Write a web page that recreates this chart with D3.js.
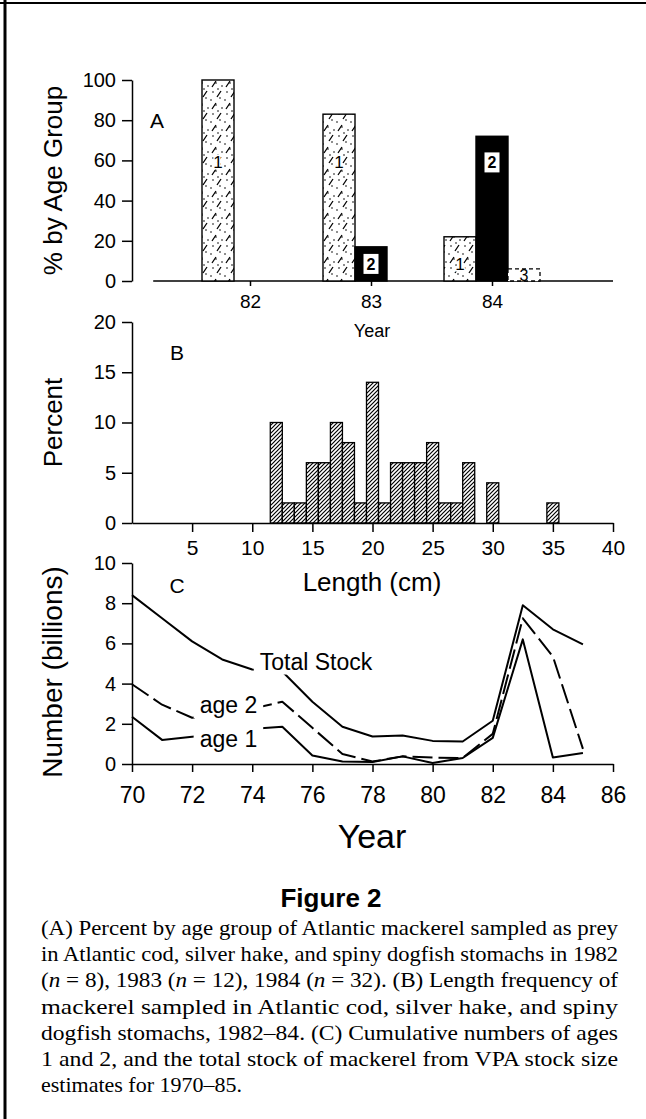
<!DOCTYPE html>
<html>
<head>
<meta charset="utf-8">
<script src="https://cdn.jsdelivr.net/npm/d3@7"></script>
<style>
  body { margin: 0; background: #fff; }
  svg { display: block; }
</style>
</head>
<body>
<svg id="fig" width="646" height="1119"></svg>
<script>
// ---------- Panel A: percent by age group of mackerel prey ----------
const sampleYears = [82, 83, 84];
const ageGroups = [1, 2, 3];
const pctAge1 = [100, 83, 22];
const pctAge2 = [0, 17, 72];
const pctAge3 = [0, 0, 6];
const pctTicks = [0, 20, 40, 60, 80, 100];

// ---------- Panel B: length frequency ----------
const lengthCm  = [12, 13, 14, 15, 16, 17, 18, 19, 20, 21, 22, 23, 24, 25, 26, 27, 28, 30, 35];
const lengthPct = [10,  2,  2,  6,  6, 10,  8,  2, 14,  2,  6,  6,  6,  8,  2,  2,  6,  4,  2];
const lengthTicks = [5, 10, 15, 20, 25, 30, 35, 40];
const percentTicks = [0, 5, 10, 15, 20];

// ---------- Panel C: VPA stock estimates (billions) ----------
const stockYears = [70, 71, 72, 73, 74, 75, 76, 77, 78, 79, 80, 81, 82, 83, 84, 85];
const totalStock = [8.4, 7.25, 6.1, 5.2, 4.7, 4.6, 3.1, 1.85, 1.37, 1.42, 1.15, 1.12, 2.15, 7.9, 6.7, 5.95];
const ages1and2  = [3.97, 2.95, 2.3, 2.5, 2.75, 3.1, 1.8, 0.5, 0.12, 0.38, 0.32, 0.3, 1.5, 7.25, 5.35, 0.75];
const age1Only   = [2.35, 1.2, 1.35, 1.5, 1.75, 1.85, 0.42, 0.12, 0.1, 0.38, 0.05, 0.3, 1.3, 6.2, 0.32, 0.55];
const yearTicks = [70, 72, 74, 76, 78, 80, 82, 84, 86];
const numberTicks = [0, 2, 4, 6, 8, 10];

const captionLines = [
  "(A) Percent by age group of Atlantic mackerel sampled as prey",
  "in Atlantic cod, silver hake, and spiny dogfish stomachs in 1982",
  null,
  "mackerel sampled in Atlantic cod, silver hake, and spiny",
  "dogfish stomachs, 1982–84.  (C) Cumulative numbers of ages",
  "1 and 2, and the total stock of mackerel from VPA stock size",
  "estimates for 1970–85."
];

const sans = "'Liberation Sans', Arial, Helvetica, sans-serif";
const serif = "'Liberation Serif', 'Times New Roman', serif";

const svg = d3.select("#fig");
svg.append("rect").attr("width", 646).attr("height", 1119).attr("fill", "#fff");

// fill patterns
const defs = svg.append("defs");
const stipple = defs.append("pattern").attr("id", "stipple")
  .attr("patternUnits", "userSpaceOnUse").attr("width", 14).attr("height", 22);
stipple.append("rect").attr("width", 14).attr("height", 22).attr("fill", "#fff");
[[3, 4], [10, 10], [6, 17], [12, 20], [1, 12], [8, 1]].forEach(([cx, cy]) =>
  stipple.append("circle").attr("cx", cx).attr("cy", cy).attr("r", 0.8).attr("fill", "#000"));
stipple.append("path").attr("d", "M7,9 L11,3 M2,21 L6,15")
  .attr("stroke", "#000").attr("stroke-width", 1.3).attr("fill", "none");

const hatch = defs.append("pattern").attr("id", "hatch")
  .attr("patternUnits", "userSpaceOnUse").attr("width", 4).attr("height", 4);
hatch.append("rect").attr("width", 4).attr("height", 4).attr("fill", "#fff");
hatch.append("path").attr("d", "M-1,1 L1,-1 M0,4 L4,0 M3,5 L5,3")
  .attr("stroke", "#000").attr("stroke-width", 1.2);

function styleAxis(g, size) {
  g.attr("font-size", size).attr("font-family", sans);
  g.selectAll("line, path").attr("stroke", "#000").attr("stroke-width", 1.5);
  g.selectAll("text").attr("fill", "#000");
  return g;
}

// ================= Panel A =================
const xA = d3.scaleLinear().domain([81, 85]).range([129, 613]);
const subA = d3.scaleBand().domain(ageGroups).range([-48, 48]);
const yA = d3.scaleLinear().domain([0, 100]).range([281, 80]);
const seriesA = [pctAge1, pctAge2, pctAge3];

const barsA = [];
sampleYears.forEach((yr, i) => ageGroups.forEach((g, j) => barsA.push({ yr, g, v: seriesA[j][i] })));

const gA = svg.append("g");
gA.append("line")
  .attr("x1", xA(81.2)).attr("x2", xA(85)).attr("y1", yA(0)).attr("y2", yA(0))
  .attr("stroke", "#000").attr("stroke-width", 1.6);

const shownA = barsA.filter(d => d.v > 0);
gA.selectAll("rect.bar").data(shownA).join("rect")
  .attr("class", "bar")
  .attr("x", d => xA(d.yr) + subA(d.g))
  .attr("width", subA.bandwidth())
  .attr("y", d => yA(d.v))
  .attr("height", d => yA(0) - yA(d.v))
  .attr("fill", d => d.g === 1 ? "url(#stipple)" : d.g === 2 ? "#000" : "#fff")
  .attr("stroke", "#000")
  .attr("stroke-width", d => d.g === 3 ? 1.3 : 1.4)
  .attr("stroke-dasharray", d => d.g === 3 ? "4,3" : null);

const labelY = d => d.v >= 50 ? yA(59) : (yA(d.v) + yA(0)) / 2 + (d.g === 1 ? 5 : 0);
shownA.forEach(d => {
  const cx = xA(d.yr) + subA(d.g) + subA.bandwidth() / 2;
  const cy = labelY(d);
  if (d.g === 2) {
    gA.append("rect").attr("x", cx - 7.5).attr("y", cy - 10).attr("width", 15).attr("height", 20)
      .attr("fill", "#fff");
  }
  gA.append("text")
    .attr("x", cx).attr("y", cy + 6)
    .attr("text-anchor", "middle")
    .attr("font-family", sans).attr("font-size", d.g === 1 ? 17 : 16)
    .attr("font-weight", d.g === 2 ? "bold" : "normal")
    .attr("fill", "#000")
    .attr("stroke", d.g === 1 ? "#fff" : "none").attr("stroke-width", 3)
    .attr("paint-order", "stroke")
    .text(d.g);
});

styleAxis(svg.append("g").attr("transform", "translate(132,0)")
  .call(d3.axisLeft(yA).tickValues(pctTicks).tickSize(10).tickSizeOuter(0).tickPadding(6)), 20);

const axAx = svg.append("g").attr("transform", `translate(0,${yA(0)})`)
  .call(d3.axisBottom(xA).tickValues(sampleYears).tickSize(5).tickPadding(9).tickFormat(d3.format("d")));
axAx.select(".domain").remove();
styleAxis(axAx, 19);

svg.append("text").attr("x", 372).attr("y", 337).attr("text-anchor", "middle")
  .attr("font-family", sans).attr("font-size", 18).text("Year");
svg.append("text").attr("x", 157).attr("y", 128).attr("text-anchor", "middle")
  .attr("font-family", sans).attr("font-size", 21).text("A");
svg.append("text").attr("transform", `translate(62,${(yA(0) + yA(100)) / 2}) rotate(-90)`)
  .attr("text-anchor", "middle").attr("font-family", sans).attr("font-size", 26)
  .text("% by Age Group");

// ================= Panel B =================
const xB = d3.scaleLinear().domain([0, 40]).range([132, 613]);
const yB = d3.scaleLinear().domain([0, 20]).range([523, 322]);
const binsB = lengthCm.map((c, i) => ({ c, v: lengthPct[i] }));

svg.append("g").selectAll("rect").data(binsB).join("rect")
  .attr("x", d => xB(d.c - 0.5))
  .attr("width", d => xB(d.c + 0.5) - xB(d.c - 0.5))
  .attr("y", d => yB(d.v))
  .attr("height", d => yB(0) - yB(d.v))
  .attr("fill", "url(#hatch)")
  .attr("stroke", "#000").attr("stroke-width", 1.3);

styleAxis(svg.append("g").attr("transform", "translate(132,0)")
  .call(d3.axisLeft(yB).tickValues(percentTicks).tickSize(10).tickSizeOuter(0).tickPadding(6)), 20);
styleAxis(svg.append("g").attr("transform", `translate(0,${yB(0)})`)
  .call(d3.axisBottom(xB).tickValues(lengthTicks).tickSize(9).tickSizeOuter(0).tickPadding(8)), 21);

svg.append("text").attr("x", 177).attr("y", 360).attr("text-anchor", "middle")
  .attr("font-family", sans).attr("font-size", 21).text("B");
svg.append("text").attr("x", 372).attr("y", 591).attr("text-anchor", "middle")
  .attr("font-family", sans).attr("font-size", 26).text("Length (cm)");
svg.append("text").attr("transform", `translate(62,${(yB(0) + yB(20)) / 2}) rotate(-90)`)
  .attr("text-anchor", "middle").attr("font-family", sans).attr("font-size", 26)
  .text("Percent");

// ================= Panel C =================
const xC = d3.scaleLinear().domain([70, 86]).range([132, 613]);
const yC = d3.scaleLinear().domain([0, 10]).range([764, 563]);
const lineC = d3.line().x((d, i) => xC(stockYears[i])).y(d => yC(d));

const gC = svg.append("g").attr("fill", "none").attr("stroke", "#000").attr("stroke-linejoin", "round");
gC.append("path").attr("d", lineC(totalStock)).attr("stroke-width", 2);
gC.append("path").attr("d", lineC(ages1and2)).attr("stroke-width", 2).attr("stroke-dasharray", "20,6");
gC.append("path").attr("d", lineC(age1Only)).attr("stroke-width", 2);

function boxedLabel(x, y, txt) {
  const g = svg.append("g");
  const t = g.append("text").attr("x", x).attr("y", y)
    .attr("font-family", sans).attr("font-size", 23).attr("fill", "#000").text(txt);
  const b = t.node().getBBox();
  g.insert("rect", "text")
    .attr("x", b.x - 6).attr("y", b.y - 2).attr("width", b.width + 12).attr("height", b.height + 2)
    .attr("fill", "#fff");
}
boxedLabel(xC(74.25), yC(4.7), "Total Stock");
boxedLabel(xC(72.25), yC(2.52), "age 2");
boxedLabel(xC(72.25), yC(0.85), "age 1");

styleAxis(svg.append("g").attr("transform", "translate(132,0)")
  .call(d3.axisLeft(yC).tickValues(numberTicks).tickSize(10).tickSizeOuter(0).tickPadding(6)), 20);
styleAxis(svg.append("g").attr("transform", `translate(0,${yC(0)})`)
  .call(d3.axisBottom(xC).tickValues(yearTicks).tickSize(8).tickSizeOuter(0).tickPadding(15)), 23);

svg.append("text").attr("x", 177).attr("y", 593).attr("text-anchor", "middle")
  .attr("font-family", sans).attr("font-size", 21).text("C");
svg.append("text").attr("x", 372).attr("y", 848).attr("text-anchor", "middle")
  .attr("font-family", sans).attr("font-size", 34).text("Year");
svg.append("text").attr("transform", `translate(62,672) rotate(-90)`)
  .attr("text-anchor", "middle").attr("font-family", sans).attr("font-size", 28)
  .text("Number (billions)");

// ================= Caption =================
svg.append("text").attr("x", 331).attr("y", 907).attr("text-anchor", "middle")
  .attr("font-family", sans).attr("font-size", 26).attr("font-weight", "bold").text("Figure 2");

const capLeft = 41, capWidth = 577;
captionLines.forEach((line, i) => {
  const t = svg.append("text").attr("x", capLeft).attr("y", 935 + i * 26.2)
    .attr("font-family", serif).attr("font-size", 22).attr("fill", "#000");
  if (i < captionLines.length - 1) {
    t.attr("textLength", capWidth).attr("lengthAdjust", "spacingAndGlyphs");
  }
  if (line === null) {
    const parts = [["(", 0], ["n", 1], [" = 8), 1983 (", 0], ["n", 1], [" = 12), 1984 (", 0], ["n", 1],
                   [" = 32).  (B) Length frequency of", 0]];
    parts.forEach(([s, it]) => t.append("tspan").attr("font-style", it ? "italic" : "normal").text(s));
  } else {
    t.text(line);
  }
});

// frame
svg.append("line").attr("x1", 5).attr("x2", 5).attr("y1", 0).attr("y2", 1119)
  .attr("stroke", "#000").attr("stroke-width", 3);
svg.append("line").attr("x1", 0).attr("x2", 646).attr("y1", 3).attr("y2", 3)
  .attr("stroke", "#000").attr("stroke-width", 2);
</script>
</body>
</html>
